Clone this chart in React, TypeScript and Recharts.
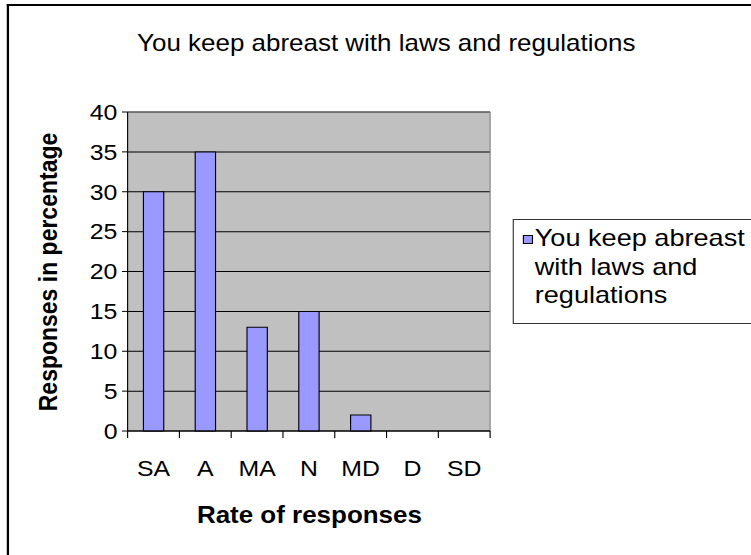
import { Bar, BarChart, CartesianGrid, ReferenceLine, XAxis, YAxis } from "recharts"

const categories = ["SA", "A", "MA", "N", "MD", "D", "SD"]
const responses = [30, 35, 13, 15, 2, 0, 0]
const yTicks = [0, 5, 10, 15, 20, 25, 30, 35, 40]
const seriesName = "You keep abreast with laws and regulations"
const chartTitle = "You keep abreast with laws and regulations"
const xTitle = "Rate of responses"
const yTitle = "Responses in percentage"

const data = categories.map((name, i) => ({ name, pos: i + 0.5, value: responses[i] }))
// ticks on the boundaries, labels in the middle of each slot
const xTicks = [...categories.flatMap((_, i) => [i, i + 0.5]), categories.length]

const FONT = '"Liberation Sans", Arial, sans-serif'
const W = 665
const H = 555
const STRETCH = 751 / W

function XTick(props: any) {
  const { x, y, payload } = props
  const v = payload.value as number
  if (Number.isInteger(v)) {
    return <line x1={x} x2={x} y1={y} y2={y + 7} stroke="#000" />
  }
  return (
    <text x={x} y={y + 45} textAnchor="middle" fontSize={22} fontFamily={FONT} fill="#000">
      {categories[Math.floor(v)]}
    </text>
  )
}

export default function App() {
  return (
    <div style={{ position: "absolute", left: 0, top: 0, width: 751, height: 555, overflow: "hidden", background: "#fff" }}>
      <div style={{ position: "relative", width: W, height: H, transform: `scaleX(${STRETCH})`, transformOrigin: "0 0", fontFamily: FONT }}>
        <div style={{ position: "absolute", left: 5.5, top: 4, width: 800, height: 700, borderLeft: "2px solid #000", borderTop: "2px solid #000" }} />
        <BarChart width={W} height={H} data={data} margin={{ top: 112, right: 231, left: 33, bottom: 84 }}>
          <CartesianGrid fill="#c0c0c0" stroke="#000" vertical={false} />
          <XAxis
            dataKey="pos"
            type="number"
            domain={[0, categories.length]}
            ticks={xTicks}
            interval={0}
            height={40}
            tickSize={0}
            tickMargin={0}
            tickLine={false}
            axisLine={{ stroke: "#000" }}
            tick={<XTick />}
          />
          <YAxis
            domain={[0, 40]}
            ticks={yTicks}
            interval={0}
            width={80}
            tickSize={5}
            tickMargin={4}
            axisLine={{ stroke: "#000" }}
            tickLine={{ stroke: "#000" }}
            tick={{ fill: "#000", fontSize: 22, fontFamily: FONT }}
          />
          <ReferenceLine y={40} stroke="#808080" />
          <ReferenceLine x={categories.length} stroke="#808080" />
          <Bar dataKey="value" name={seriesName} fill="#9999ff" stroke="#000" barSize={18} isAnimationActive={false} />
        </BarChart>
        <svg width={W} height={H} style={{ position: "absolute", left: 0, top: 0, pointerEvents: "none" }}>
          <text x={342} y={51} textAnchor="middle" fontSize={23} fontFamily={FONT} fill="#000">
            {chartTitle}
          </text>
          <text x={274} y={523} textAnchor="middle" fontSize={23} fontWeight="bold" fontFamily={FONT} fill="#000">
            {xTitle}
          </text>
          <text
            x={0}
            y={0}
            transform="translate(50.5 272) rotate(-90)"
            textAnchor="middle"
            fontSize={23}
            fontWeight="bold"
            fontFamily={FONT}
            fill="#000"
          >
            {yTitle}
          </text>
        </svg>
        <div
          style={{
            position: "absolute",
            left: 453.5,
            top: 219,
            width: 300,
            height: 105,
            boxSizing: "border-box",
            border: "1px solid #333",
            background: "#fff",
          }}
        >
          <div style={{ position: "absolute", left: 8, top: 15, width: 9, height: 9, boxSizing: "border-box", border: "1px solid #000", background: "#9999ff" }} />
          <div style={{ position: "absolute", left: 19, top: 4, width: 205, fontSize: 24, lineHeight: "28.5px", color: "#000" }}>{seriesName}</div>
        </div>
      </div>
    </div>
  )
}
